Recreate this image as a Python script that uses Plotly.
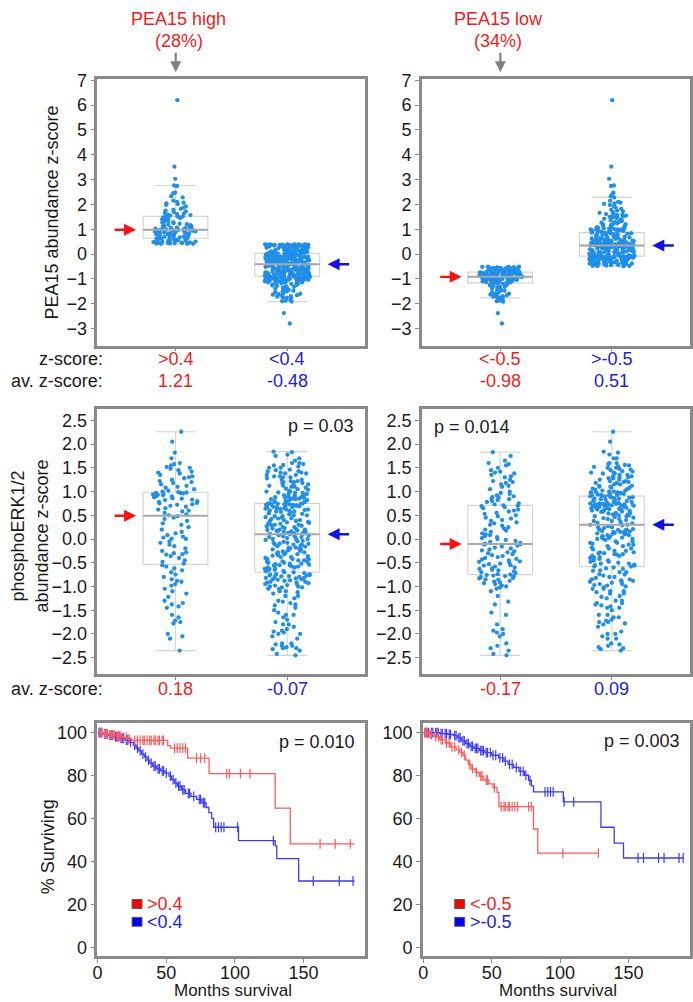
import numpy as np
import plotly.graph_objects as go

W, H = 693, 1002

# ---------------- data ----------------
# PEA15 abundance z-scores, grouped by PEA15 level
pea15_high = [6.2, 3.52, 3.03, 2.76, 2.74, 2.47, 2.44, 2.33, 2.28, 2.15, 2.1, 2.07, 2.04, 2.02, 1.98, 1.92, 1.87,
              1.82, 1.78, 1.75, 1.72, 1.69, 1.66, 1.63, 1.61, 1.59, 1.57, 1.55, 1.53, 1.52,
              1.51, 1.5, 1.48, 1.45, 1.42, 1.39, 1.36, 1.33, 1.3, 1.28, 1.26, 1.24, 1.22, 1.2, 1.18, 1.16, 1.14,
              1.12, 1.1, 1.08, 1.06, 1.05, 1.04, 1.03, 1.02, 1.01, 1.0, 0.99, 0.99, 0.98,
              0.97, 0.96, 0.95, 0.94, 0.93, 0.92, 0.91, 0.9, 0.89, 0.88, 0.87, 0.86, 0.85, 0.84, 0.83, 0.82, 0.8, 0.79,
              0.78, 0.77, 0.75, 0.74, 0.72, 0.71, 0.7, 0.69, 0.67, 0.66, 0.65, 0.64,
              0.63, 0.62, 0.61, 0.6, 0.59, 0.58, 0.57, 0.56, 0.55, 0.54, 0.53, 0.52, 0.51, 0.5, 0.5, 0.49, 0.48, 0.47,
              0.46, 0.46, 0.45, 0.44, 0.44, 0.43, 0.43, 0.42, 0.42, 0.41, 0.41, 0.41]
pea15_mid = [-0.49, -0.49, -0.48, -0.48, -0.47, -0.46, -0.45, -0.44,
             -0.42, -0.41, -0.41, -0.4, -0.4, -0.39, -0.39, -0.38, -0.37, -0.37,
             -0.36, -0.36, -0.35, -0.34, -0.34, -0.33, -0.33, -0.32, -0.31, -0.31,
             -0.3, -0.3, -0.29, -0.28, -0.28, -0.27, -0.27, -0.26, -0.25, -0.25,
             -0.24, -0.24, -0.23, -0.22, -0.22, -0.21, -0.21, -0.2, -0.19, -0.19,
             -0.18, -0.18, -0.17, -0.16, -0.16, -0.15, -0.15, -0.14, -0.14, -0.13,
             -0.13, -0.12, -0.12, -0.12, -0.11, -0.11, -0.11, -0.1, -0.1, -0.1, -0.1, -0.1,
             -0.09, -0.08, -0.08, -0.07, -0.06, -0.05, -0.05, -0.04, -0.03, -0.02,
             -0.02, -0.01, 0.0, 0.01, 0.01, 0.02, 0.03, 0.04, 0.04, 0.05,
             0.06, 0.07, 0.07, 0.08, 0.09, 0.1, 0.1, 0.11, 0.12, 0.13,
             0.13, 0.14, 0.15, 0.16, 0.16, 0.17, 0.18, 0.19, 0.19, 0.2,
             0.21, 0.22, 0.22, 0.23, 0.24, 0.25, 0.25, 0.26, 0.27, 0.27,
             0.28, 0.28, 0.29, 0.29, 0.3, 0.3, 0.3, 0.31, 0.31, 0.31,
             0.32, 0.32, 0.32, 0.32, 0.33, 0.33, 0.33, 0.33, 0.34, 0.34, 0.34,
             0.34, 0.35, 0.35, 0.35, 0.35, 0.36, 0.36, 0.36, 0.36, 0.37, 0.37, 0.37, 0.37, 0.38, 0.38, 0.38,
             0.38, 0.39, 0.39, 0.39, 0.39, 0.39, 0.39]
pea15_low = [-0.51, -0.51, -0.52, -0.52, -0.53, -0.54, -0.54, -0.55, -0.56, -0.56, -0.57, -0.58, -0.58, -0.59,
             -0.6, -0.6, -0.61, -0.62, -0.62, -0.63, -0.64, -0.64, -0.65, -0.66, -0.66, -0.67, -0.68, -0.68,
             -0.69, -0.7, -0.7, -0.71, -0.71, -0.72, -0.72, -0.73, -0.73,
             -0.74, -0.74, -0.75, -0.75, -0.76, -0.77, -0.77, -0.78, -0.78, -0.79, -0.8, -0.8, -0.81, -0.81,
             -0.82, -0.83, -0.83, -0.84, -0.84, -0.85, -0.85, -0.86, -0.86, -0.87, -0.87, -0.88, -0.88, -0.89,
             -0.89, -0.9, -0.9, -0.9, -0.91, -0.91, -0.92, -0.92, -0.92,
             -0.93, -0.93, -0.94, -0.94, -0.95, -0.96, -0.96, -0.97, -0.97, -0.98, -0.99, -0.99, -1.0, -1.0,
             -1.01, -1.02, -1.02, -1.03, -1.04, -1.04, -1.05, -1.06, -1.06, -1.07, -1.08, -1.08, -1.09, -1.1,
             -1.1, -1.11, -1.12, -1.13, -1.14, -1.14, -1.15, -1.16,
             -1.17, -1.18, -1.2, -1.21, -1.23, -1.25, -1.27, -1.28, -1.3, -1.32, -1.35, -1.37, -1.4, -1.42,
             -1.45, -1.48, -1.5, -1.52, -1.55, -1.57, -1.6, -1.62, -1.64, -1.66, -1.68, -1.7, -1.72, -1.74,
             -1.75, -1.77, -1.86, -1.88, -1.9, -1.92, -2.38, -2.8]

# phosphoERK1/2 abundance z-scores for the same PEA15 groups
perk_high = [-2.35, -2.1, -2.05, -2.0, -1.78, -1.75, -1.72, -1.65, -1.6, -1.45, -1.42, -1.38, -1.35, -1.3, -1.22,
             -1.15, -1.1, -1.05, -0.98, -0.95, -0.9, -0.88, -0.85, -0.8, -0.75, -0.7, -0.66, -0.62, -0.58, -0.55,
             -0.52, -0.48, -0.45, -0.4, -0.36, -0.33, -0.32, -0.3, -0.28, -0.25, -0.2, -0.15, -0.12, -0.08, -0.05,
             0.0, 0.01, 0.03, 0.05, 0.08, 0.12, 0.15, 0.2, 0.25, 0.3, 0.33, 0.38, 0.42, 0.45, 0.48,
             0.5, 0.52, 0.55, 0.58, 0.6, 0.62, 0.65, 0.68, 0.7, 0.72, 0.73, 0.75, 0.76, 0.78, 0.8, 0.82, 0.83,
             0.85, 0.86, 0.88, 0.9, 0.91, 0.92, 0.93, 0.94, 0.95, 0.96, 0.97, 0.97, 0.98,
             0.99, 1.0, 1.02, 1.05, 1.08, 1.1, 1.12, 1.15, 1.18, 1.2, 1.22, 1.25, 1.28, 1.3, 1.32, 1.35, 1.38,
             1.4, 1.42, 1.45, 1.48, 1.5, 1.52, 1.55, 1.58, 1.6, 1.7, 1.82, 2.05, 2.26]
perk_mid = [-2.32, -2.3, -2.28, -2.25, -2.22, -2.2, -2.1, -2.0, -1.95, -1.85, -1.8, -1.75, -1.7, -1.65, -1.6,
            -1.5, -1.45, -1.4, -1.35, -1.3, -1.25, -1.2, -1.15, -1.12, -1.1, -1.05, -1.02, -1.0, -0.97, -0.95,
            -0.92, -0.9, -0.87, -0.85, -0.82, -0.8, -0.77, -0.74, -0.7, -0.67, -0.63,
            -0.6, -0.58, -0.56, -0.54, -0.52, -0.5, -0.48, -0.45, -0.42, -0.4, -0.38, -0.35, -0.32, -0.3, -0.28,
            -0.25, -0.22, -0.2, -0.18, -0.15, -0.12, -0.1, -0.08, -0.05, -0.02, 0.0, 0.02, 0.04, 0.06, 0.08,
            0.1, 0.11, 0.12, 0.13, 0.14, 0.15, 0.16, 0.17, 0.18, 0.19, 0.2,
            0.21, 0.23, 0.25, 0.27, 0.29, 0.3, 0.32, 0.34, 0.36, 0.38, 0.4, 0.42, 0.44, 0.46, 0.48, 0.5, 0.52,
            0.54, 0.55, 0.57, 0.58, 0.6, 0.61, 0.62, 0.63, 0.64, 0.65, 0.66, 0.67, 0.68, 0.69, 0.7, 0.71, 0.72,
            0.72, 0.73, 0.73, 0.74, 0.74, 0.75, 0.75,
            0.76, 0.78, 0.8, 0.82, 0.84, 0.85, 0.87, 0.88, 0.9, 0.92, 0.93, 0.95, 0.97, 0.98, 1.0, 1.02, 1.04,
            1.06, 1.08, 1.1, 1.12, 1.15, 1.18, 1.2, 1.22, 1.25, 1.28, 1.3, 1.32, 1.35, 1.38, 1.4, 1.43, 1.46,
            1.5, 1.53, 1.56, 1.6, 1.7, 1.78, 1.84]
perk_low = [-2.45, -2.42, -2.35, -2.3, -2.25, -2.2, -2.05, -2.0, -1.97, -1.93, -1.9, -1.8, -1.6, -1.55, -1.38,
            -1.32, -1.2, -1.1, -1.05, -1.02, -1.0, -0.98, -0.95, -0.93, -0.92, -0.9, -0.88, -0.86, -0.85, -0.83,
            -0.82, -0.8, -0.79, -0.78, -0.77, -0.76, -0.75,
            -0.74, -0.72, -0.7, -0.68, -0.66, -0.65, -0.63, -0.62, -0.6, -0.58, -0.56, -0.55, -0.53, -0.52, -0.5,
            -0.48, -0.47, -0.45, -0.43, -0.42, -0.4, -0.38, -0.36, -0.34, -0.32, -0.3, -0.28, -0.26, -0.24,
            -0.22, -0.2, -0.18, -0.16, -0.14, -0.12, -0.11,
            -0.1, -0.08, -0.06, -0.04, -0.02, 0.0, 0.02, 0.04, 0.06, 0.08, 0.1, 0.12, 0.15, 0.18, 0.2, 0.22,
            0.25, 0.28, 0.3, 0.33, 0.35, 0.38, 0.4, 0.43, 0.45, 0.48, 0.5, 0.53, 0.55, 0.58, 0.6, 0.62, 0.65,
            0.67, 0.69, 0.7,
            0.71, 0.73, 0.75, 0.78, 0.8, 0.82, 0.84, 0.85, 0.87, 0.88, 0.9, 0.92, 0.95, 0.97, 1.0, 1.05, 1.1,
            1.12, 1.15, 1.18, 1.2, 1.22, 1.25, 1.3, 1.32, 1.35, 1.38, 1.4, 1.42, 1.45, 1.5, 1.55, 1.58, 1.6,
            1.65, 1.75, 1.83]

# text labels
split_left = [">0.4", "<0.4"]
split_right = ["<-0.5", ">-0.5"]
pea15_avg_left = ["1.21", "-0.48"]
pea15_avg_right = ["-0.98", "0.51"]
perk_avg_left = ["0.18", "-0.07"]
perk_avg_right = ["-0.17", "0.09"]
p_values = ["p = 0.03", "p = 0.014", "p = 0.010", "p = 0.003"]

# Kaplan-Meier: event times (months) and % surviving after each step, censor times, end of follow-up
km_bl_red_t = [0, 4, 8, 13, 18, 22, 25, 51, 53, 65.6, 81.2, 129.3, 140.3]
km_bl_red_s = [100, 99.5, 99, 98.4, 97.8, 97.1, 96.4, 94.0, 92.8, 88.2, 81.0, 64.9, 48.3]
km_bl_red_c = [2, 3, 5, 6, 7, 9, 10, 11, 12, 14, 15, 16, 17, 19, 21, 23, 27, 29, 31, 33, 34, 36, 38, 39, 41,
               42, 44, 45, 47, 48, 56, 58, 60, 62, 64, 72, 75, 78, 94, 96, 104, 111, 162, 173, 184]
km_bl_red_end = 187
km_bl_blue_t = [0, 4, 8, 12, 16, 20, 23, 26, 28, 30, 32, 34, 36, 38, 40, 43, 46, 49, 52, 54, 56, 58, 61, 64,
                68, 72, 76, 79, 81, 83, 84.5, 102.6, 129.3, 130.5, 146.4]
km_bl_blue_s = [100, 99.4, 98.8, 98.1, 97.4, 96.6, 95.5, 94.2, 92.8, 91.5, 90.0, 88.6, 87.2, 85.8, 84.4, 83.2,
                82.2, 81.2, 79.8, 78.2, 76.6, 75.1, 73.4, 71.8, 70.4, 69.0, 67.4, 65.2, 62.8, 60.1, 56.0, 49.8,
                47.3, 41.4, 31.0]
km_bl_blue_c = [1, 2, 3, 5, 6, 7, 9, 10, 11, 13, 14, 15, 17, 18, 19, 21, 22, 24, 27, 29, 31, 33, 35, 37, 39, 41,
                42, 44, 45, 47, 48, 50, 53, 55, 57, 59, 60, 62, 63, 66, 67, 70, 74, 75, 77, 78, 86, 88, 90, 92,
                102, 128, 157, 176, 186]
km_bl_blue_end = 187
km_br_red_t = [0, 4, 8, 12, 16, 20, 24, 27, 29, 31, 33, 35, 38, 41, 44, 48, 51, 54, 55.3, 80.6, 83.7]
km_br_red_s = [100, 99.2, 98.2, 96.8, 95.2, 93.4, 92.0, 90.8, 89.5, 87.2, 85.2, 83.2, 81.5, 79.8, 78.0, 76.2,
               74.4, 72.2, 65.6, 55.2, 44.0]
km_br_red_c = [1, 2, 3, 5, 6, 9, 11, 13, 14, 17, 19, 21, 23, 26, 28, 30, 34, 36, 39, 42, 43, 46, 47, 52, 57, 59,
               60, 62, 63, 65, 67, 69, 77, 79, 102, 128]
km_br_red_end = 128
km_br_blue_t = [0, 12, 18, 22, 25, 28, 31, 34, 37, 41, 45, 50, 55, 59, 62, 66, 70, 74, 77, 79, 80.6, 102.4,
                129.9, 139.6, 146.4]
km_br_blue_s = [100, 99.6, 99.2, 98.6, 97.6, 96.2, 94.9, 93.6, 92.7, 91.7, 90.7, 89.5, 88.3, 86.8, 85.3, 83.8,
                82.0, 80.2, 77.8, 75.3, 72.5, 67.8, 56.0, 48.6, 41.7]
km_br_blue_c = [2, 3, 4, 6, 7, 9, 10, 11, 13, 14, 16, 17, 19, 20, 23, 24, 26, 27, 29, 30, 32, 33, 35, 36, 38,
                39, 40, 42, 43, 44, 46, 47, 49, 51, 53, 56, 58, 60, 63, 65, 68, 71, 73, 75, 78, 89, 91, 93, 95,
                103, 110, 157, 161, 172, 176, 187, 190]
km_br_blue_end = 190

# ---------------- styling ----------------
FONT = "Liberation Sans, Arial, sans-serif"
FS = 18
RED = "#f01c1c"
BLUE = "#2020e0"
KM_RED = "#ff5a5a"
KM_BLUE = "#3a3aff"
DOT = "#1f8fea"
FRAME = "#8a8a8a"
BOX_LINE = "#d4d4d4"
MED_LINE = "#a8a8a8"
BOX_W = 0.58


def fx(px):
    return px / W


def fy(py):
    return 1 - py / H


fig = go.Figure()

panels = {
    "TL": ("x", "y", (93, 363), (71, 340)),
    "TR": ("x2", "y2", (420, 690), (71, 340)),
    "ML": ("x3", "y3", (93, 363), (404, 672)),
    "MR": ("x4", "y4", (420, 690), (404, 672)),
    "BL": ("x5", "y5", (93, 363), (721, 957)),
    "BR": ("x6", "y6", (421, 690), (721, 957)),
}

meds = {}


def add_box(vals, pos, key):
    xa, ya = panels[key][0], panels[key][1]
    fig.add_trace(go.Box(
        y=vals, x0=pos, width=BOX_W, boxpoints="all", jitter=0.7, pointpos=0,
        marker=dict(color=DOT, size=4.3), line=dict(color=BOX_LINE, width=1.2),
        fillcolor="rgba(255,255,255,0)", whiskerwidth=0.62, showlegend=False,
        xaxis=xa, yaxis=ya, hoverinfo="y"))
    med = float(np.median(vals))
    fig.add_trace(go.Scatter(
        x=[pos - BOX_W / 2, pos + BOX_W / 2], y=[med, med], mode="lines",
        line=dict(color=MED_LINE, width=2), showlegend=False, hoverinfo="skip",
        xaxis=xa, yaxis=ya))
    meds[(key, pos)] = med


add_box(pea15_high, 0, "TL")
add_box(pea15_mid + pea15_low, 1, "TL")
add_box(pea15_low, 0, "TR")
add_box(pea15_mid + pea15_high, 1, "TR")
add_box(perk_high, 0, "ML")
add_box(perk_mid + perk_low, 1, "ML")
add_box(perk_low, 0, "MR")
add_box(perk_mid + perk_high, 1, "MR")


def add_km(t, s, cens, end, color, key):
    xa, ya = panels[key][0], panels[key][1]
    fig.add_trace(go.Scatter(
        x=list(t) + [end], y=list(s) + [s[-1]], mode="lines", line=dict(color=color, width=1.3, shape="hv"),
        showlegend=False, xaxis=xa, yaxis=ya, hoverinfo="skip"))
    tt = np.array(t, dtype=float)
    ss = np.array(s, dtype=float)
    idx = np.searchsorted(tt, np.array(cens, dtype=float), side="right") - 1
    fig.add_trace(go.Scatter(
        x=cens, y=ss[idx], mode="markers",
        marker=dict(symbol="line-ns", size=7, line=dict(color=color, width=1.2)),
        showlegend=False, xaxis=xa, yaxis=ya, hoverinfo="skip"))


add_km(km_bl_blue_t, km_bl_blue_s, km_bl_blue_c, km_bl_blue_end, KM_BLUE, "BL")
add_km(km_bl_red_t, km_bl_red_s, km_bl_red_c, km_bl_red_end, KM_RED, "BL")
add_km(km_br_blue_t, km_br_blue_s, km_br_blue_c, km_br_blue_end, KM_BLUE, "BR")
add_km(km_br_red_t, km_br_red_s, km_br_red_c, km_br_red_end, KM_RED, "BR")

# ---------------- axes ----------------
layout_axes = {}
axis_common = dict(showline=True, mirror=True, linecolor=FRAME, linewidth=2.5, showgrid=False, zeroline=False,
                   ticks="outside", ticklen=4, tickwidth=1, tickcolor=FRAME,
                   tickfont=dict(family=FONT, size=FS, color="#1a1a1a"))
yranges = {"TL": [-3.69, 7.04], "TR": [-3.69, 7.04], "ML": [-2.85, 2.74], "MR": [-2.85, 2.74],
           "BL": [-4.1, 104.6], "BR": [-4.1, 104.6]}
for key, (xa, ya, (x0, x1), (y0, y1)) in panels.items():
    xname = "xaxis" + xa[1:]
    yname = "yaxis" + ya[1:]
    xd = dict(axis_common, domain=[fx(x0), fx(x1)], anchor=ya, type="linear")
    yd = dict(axis_common, domain=[fy(y1), fy(y0)], anchor=xa, range=yranges[key])
    if key in ("BL", "BR"):
        xd.update(range=[-0.2, 195], tickvals=[0, 50, 100, 150], ticklen=4, ticklabelstandoff=-6)
        yd.update(tickvals=[0, 20, 40, 60, 80, 100])
    else:
        xd.update(range=[-0.7, 1.7], tickvals=[0, 1], showticklabels=False, ticklen=3)
        if key in ("TL", "TR"):
            yd.update(tickvals=list(range(-3, 8)))
        else:
            yd.update(tickvals=[-2.5, -2.0, -1.5, -1.0, -0.5, 0.0, 0.5, 1.0, 1.5, 2.0, 2.5], tickformat=".1f")
    layout_axes[xname] = xd
    layout_axes[yname] = yd

# ---------------- annotations ----------------
ann = []


def txt(text, x, y, color="#1a1a1a", xanchor="center", xref="paper", size=FS, angle=0, yanchor="middle"):
    ann.append(dict(text=text, x=x, y=y, xref=xref, yref="paper", xanchor=xanchor, yanchor=yanchor,
                    showarrow=False, textangle=angle, borderpad=0,
                    font=dict(family=FONT, size=size, color=color)))


# headers
txt("PEA15 high", fx(175), fy(10), RED)
txt("(28%)", fx(175), fy(32), RED)
txt("PEA15 low", fx(497), fy(10), RED)
txt("(34%)", fx(497), fy(32), RED)
for gx in (172, 499):
    ann.append(dict(x=fx(gx), y=fy(64), xref="paper", yref="paper", ax=0, ay=-21, text="", showarrow=True,
                    arrowhead=2, arrowsize=1, arrowwidth=2.2, arrowcolor="#808080"))

# group labels under panels
txt("z-score:", fx(100), fy(354), xanchor="right")
txt("av. z-score:", fx(100), fy(376), xanchor="right")
txt("av. z-score:", fx(100), fy(687), xanchor="right")
for i, c in enumerate((RED, BLUE)):
    txt(split_left[i], i, fy(354), c, xref="x")
    txt(pea15_avg_left[i], i, fy(376), c, xref="x")
    txt(split_right[i], i, fy(354), c, xref="x2")
    txt(pea15_avg_right[i], i, fy(376), c, xref="x2")
    txt(perk_avg_left[i], i, fy(687), c, xref="x3")
    txt(perk_avg_right[i], i, fy(687), c, xref="x4")

# y-axis titles
txt("PEA15 abundance z-score", fx(47), fy(206), angle=-90)
txt("phosphoERK1/2<br>abundance z-score", fx(25), fy(532), angle=-90)
txt("% Surviving", fx(43), fy(846), angle=-90)
# x-axis titles
txt("Months survival", fx(230), 0, yanchor="bottom", size=17)
txt("Months survival", fx(557), 0, yanchor="bottom", size=17)

# p-values
txt(p_values[0], fx(353), fy(421), xanchor="right")
txt(p_values[1], fx(431), fy(422), xanchor="left")
txt(p_values[2], fx(354), fy(740), xanchor="right")
txt(p_values[3], fx(681), fy(739), xanchor="right")

# median arrows
arrow_pos = {"TL": ("x", "y"), "TR": ("x2", "y2"), "ML": ("x3", "y3"), "MR": ("x4", "y4")}
for key, (xa, ya) in arrow_pos.items():
    ann.append(dict(x=(39 if key in ("TL", "ML") else 40) / 270, xref=xa + " domain", y=meds[(key, 0)], yref=ya,
                    ax=-23, ay=0, text="", showarrow=True, arrowhead=2, arrowsize=1, arrowwidth=2.4,
                    arrowcolor="#ff1010"))
    ann.append(dict(x=232 / 270, xref=xa + " domain", y=meds[(key, 1)], yref=ya,
                    ax=23, ay=0, text="", showarrow=True, arrowhead=2, arrowsize=1, arrowwidth=2.4,
                    arrowcolor="#1010f0"))

# KM legends
shapes = []
for lx, labels in ((128, split_left), (453, split_right)):
    for j, (lab, c) in enumerate(zip(labels, ("#ff0000", "#0000ff"))):
        cy = 904 + 18 * j
        shapes.append(dict(type="rect", xref="paper", yref="paper", x0=fx(lx), x1=fx(lx + 10),
                           y0=fy(cy + 4.5), y1=fy(cy - 4.5), fillcolor=c, line=dict(color="#555555", width=1)))
        txt(lab, fx(lx + 14), fy(cy), RED if j == 0 else BLUE, xanchor="left")

fig.update_layout(
    width=W, height=H, margin=dict(l=0, r=0, t=0, b=0),
    paper_bgcolor="white", plot_bgcolor="white", showlegend=False,
    boxmode="overlay", annotations=ann, shapes=shapes,
    font=dict(family=FONT, size=FS, color="#1a1a1a"),
    **layout_axes,
)

fig.write_html("out.html", config={"displayModeBar": False},
               post_script="document.body.style.margin='0px';document.body.style.overflow='hidden';")
